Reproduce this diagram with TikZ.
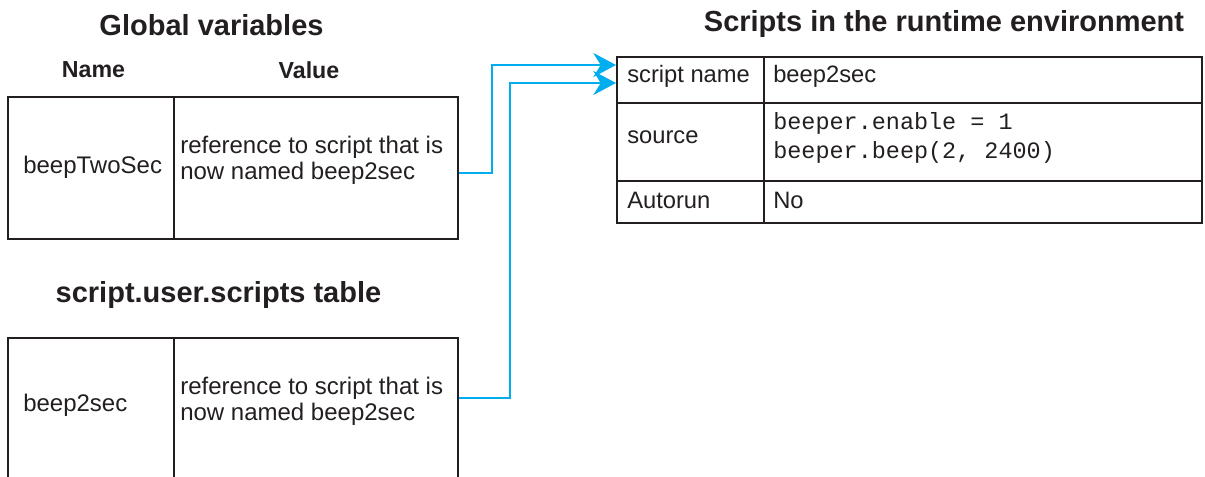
\documentclass[tikz,border=0pt]{standalone}
\usepackage{fontspec}
\setmainfont{Liberation Sans}
\setmonofont{Liberation Mono}
\usepackage{xcolor}
\usepackage{tikz}
\usetikzlibrary{arrows.meta}
\definecolor{rtink}{HTML}{231F20}
\definecolor{rtcyan}{HTML}{00AEEF}
\tikzset{
  cell/.style={draw=rtink, line width=1.5pt, inner sep=0pt},
  heading/.style={inner sep=0pt, text=rtink, font=\bfseries\fontsize{21.75}{26}\selectfont},
  colhead/.style={inner sep=0pt, text=rtink, font=\bfseries\fontsize{17.4}{21}\selectfont},
  bigtext/.style={inner sep=0pt, anchor=west, align=left, text=rtink, font=\fontsize{18}{19.5}\selectfont},
  smalltext/.style={inner sep=0pt, anchor=west, align=left, text=rtink, font=\fontsize{17.8}{21}\selectfont},
  codetext/.style={inner sep=0pt, anchor=west, align=left, text=rtink, font=\ttfamily\fontsize{17.6}{21.75}\selectfont},
  link/.style={draw=rtcyan, line width=1.9pt, -{Stealth[length=17pt, width=18pt]}}
}
\begin{document}
\begin{tikzpicture}[x=0.75pt, y=-0.75pt]
  \clip (0,0) rectangle (1205,476);

  \node[heading] (tglobal) at (211.5,25) {Global variables};
  \node[colhead] (tname) at (93.5,70) {Name};
  \node[colhead] (tvalue) at (309,70) {Value};
  \node[cell, minimum width=124.5pt, minimum height=106.5pt] (gname) at (91,168) {};
  \node[cell, minimum width=213pt, minimum height=106.5pt] (gval) at (316,168) {};
  \node[bigtext] (gkey) at (23,167) {beepTwoSec};
  \node[bigtext] (gref) at (180,160) {reference to script that is\\now named beep2sec};

  \node[heading] (tscripts) at (218.5,295) {script.user.scripts table};
  \node[cell, minimum width=124.5pt, minimum height=106.5pt] (sname) at (91,409) {};
  \node[cell, minimum width=213pt, minimum height=106.5pt] (sval) at (316,409) {};
  \node[bigtext] (skey) at (23,405) {beep2sec};
  \node[bigtext] (sref) at (180,401) {reference to script that is\\now named beep2sec};

  \node[heading] (truntime) at (944,24) {Scripts in the runtime environment};
  \node[cell, minimum width=110.25pt, minimum height=34.5pt] (rname) at (690.5,80) {};
  \node[cell, minimum width=328.5pt, minimum height=34.5pt] (rnameval) at (983,80) {};
  \node[cell, minimum width=110.25pt, minimum height=58.5pt] (rsource) at (690.5,142) {};
  \node[cell, minimum width=328.5pt, minimum height=58.5pt] (rsourceval) at (983,142) {};
  \node[cell, minimum width=110.25pt, minimum height=31.5pt] (rauto) at (690.5,202) {};
  \node[cell, minimum width=328.5pt, minimum height=31.5pt] (rautoval) at (983,202) {};
  \node[smalltext] at (627,76) {script name};
  \node[smalltext] at (773,76) {beep2sec};
  \node[smalltext] at (627,137) {source};
  \node[codetext] at (773,138) {beeper.enable = 1\\beeper.beep(2, 2400)};
  \node[smalltext] at (627,200) {Autorun};
  \node[smalltext] at (773,200) {No};

  \draw[link] ([yshift=-3.75pt]gval.east) -- ++(33,0) |- ([yshift=11.25pt]rname.west);
  \draw[link] ([yshift=8.25pt]sval.east) -- ++(51,0) |- ([yshift=-2.25pt]rname.west);
\end{tikzpicture}
\end{document}
